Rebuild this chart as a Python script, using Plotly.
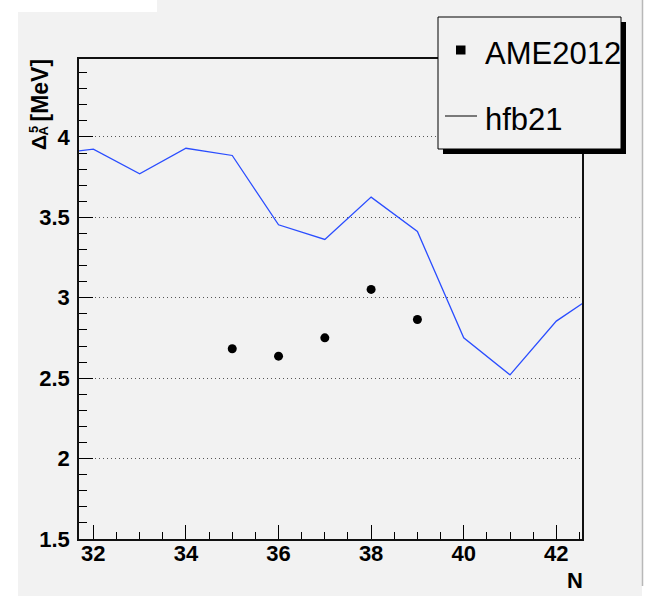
import plotly.graph_objects as go

# Measured points (AME2012) and the hfb21 model curve
ame_n = [35, 36, 37, 38, 39]
ame_delta = [2.683, 2.637, 2.751, 3.052, 2.865]

hfb_n = [31, 32, 33, 34, 35, 36, 37, 38, 39, 40, 41, 42, 43]
hfb_delta = [3.89, 3.924, 3.771, 3.93, 3.885, 3.454, 3.363, 3.626, 3.412,
             2.751, 2.521, 2.855, 3.05]

x_range = [31.69, 42.555]
y_range = [1.5, 4.485]
y_ticks = [1.5, 2, 2.5, 3, 3.5, 4]
y_tick_text = ["1.5", "2", "2.5", "3", "3.5", "4"]
x_ticks = [32, 34, 36, 38, 40, 42]
x_tick_text = ["32", "34", "36", "38", "40", "42"]

W, H = 650, 596
L, R, T, B = 79, 582, 59, 539  # plot-area box in pixels


def px(x):
    return (x - L) / (R - L)


def py(y):
    return (B - y) / (B - T)


FONT = "Liberation Sans, Arial, Helvetica, sans-serif"
GRAY = "#f2f2f2"

fig = go.Figure()

fig.add_trace(go.Scatter(
    x=hfb_n, y=hfb_delta, mode="lines", name="hfb21",
    line=dict(color="#2a4dff", width=1.3), showlegend=False,
))
fig.add_trace(go.Scatter(
    x=ame_n, y=ame_delta, mode="markers", name="AME2012",
    marker=dict(color="black", size=9, symbol="circle"), showlegend=False,
))

shapes = []
# canvas background
shapes.append(dict(type="rect", xref="paper", yref="paper", layer="below",
                   x0=px(18), x1=px(642), y0=py(596), y1=py(12),
                   fillcolor=GRAY, line=dict(width=0)))
shapes.append(dict(type="rect", xref="paper", yref="paper", layer="below",
                   x0=px(157), x1=px(642), y0=py(13), y1=py(0),
                   fillcolor=GRAY, line=dict(width=0)))
shapes.append(dict(type="line", xref="paper", yref="paper", layer="below",
                   x0=px(642.5), x1=px(642.5), y0=py(586), y1=py(0),
                   line=dict(color="#b8b8b8", width=1.5)))

# legend box with drop shadow
shapes.append(dict(type="rect", xref="paper", yref="paper", layer="above",
                   x0=px(443), x1=px(626), y0=py(154), y1=py(22),
                   fillcolor="black", line=dict(width=0)))
shapes.append(dict(type="rect", xref="paper", yref="paper", layer="above",
                   x0=px(438), x1=px(621), y0=py(149), y1=py(17),
                   fillcolor=GRAY, line=dict(color="black", width=1)))
# legend glyphs
shapes.append(dict(type="rect", xref="paper", yref="paper", layer="above",
                   x0=px(456), x1=px(465.5), y0=py(54.5), y1=py(45.5),
                   fillcolor="black", line=dict(width=0)))
shapes.append(dict(type="line", xref="paper", yref="paper", layer="above",
                   x0=px(445), x1=px(477), y0=py(116), y1=py(116),
                   line=dict(color="black", width=1)))

annotations = [
    dict(text="AME2012", x=px(483), y=py(54), xref="paper", yref="paper",
         xanchor="left", yanchor="middle", showarrow=False,
         font=dict(family=FONT, size=31, color="black")),
    dict(text="hfb21", x=px(483), y=py(119), xref="paper", yref="paper",
         xanchor="left", yanchor="middle", showarrow=False,
         font=dict(family=FONT, size=31, color="black")),
    # x-axis title
    dict(text="<b>N</b>", x=px(575), y=py(580), xref="paper", yref="paper",
         xanchor="center", yanchor="middle", showarrow=False,
         font=dict(family=FONT, size=22, color="black")),
    # y-axis title: Delta with stacked 5 / A, then unit
    dict(text="<b>Δ</b>", x=px(38.5), y=py(142.5), xref="paper", yref="paper",
         xanchor="center", yanchor="middle", showarrow=False, textangle=-90,
         font=dict(family=FONT, size=21, color="black")),
    dict(text="<b>5</b>", x=px(33), y=py(130), xref="paper", yref="paper",
         xanchor="center", yanchor="middle", showarrow=False, textangle=-90,
         font=dict(family=FONT, size=13, color="black")),
    dict(text="<b>A</b>", x=px(43), y=py(130.5), xref="paper", yref="paper",
         xanchor="center", yanchor="middle", showarrow=False, textangle=-90,
         font=dict(family=FONT, size=13, color="black")),
    dict(text="<b>[MeV]</b>", x=px(39), y=py(90.5), xref="paper", yref="paper",
         xanchor="center", yanchor="middle", showarrow=False, textangle=-90,
         font=dict(family=FONT, size=23, color="black")),
]

tick_font = dict(family=FONT, size=22, color="black", weight="bold")

fig.update_layout(
    width=W, height=H,
    margin=dict(l=L, r=W - R, t=T, b=H - B, pad=0),
    paper_bgcolor="white",
    plot_bgcolor=GRAY,
    showlegend=False,
    shapes=shapes,
    annotations=annotations,
    xaxis=dict(
        range=x_range, tickmode="array", tickvals=x_ticks, ticktext=x_tick_text,
        ticks="inside", ticklen=14, tickwidth=1.2, tickcolor="black",
        minor=dict(dtick=0.5, tick0=0, ticks="inside", ticklen=7,
                   tickwidth=1, tickcolor="black", showgrid=False),
        showgrid=False, zeroline=False,
        showline=True, linecolor="#111", linewidth=2, mirror=True,
        tickfont=tick_font, ticklabelstandoff=-6,
    ),
    xaxis2=dict(
        range=x_range, overlaying="x", anchor="y", side="bottom",
        dtick=0.1, tick0=0, ticks="inside", ticklen=3, tickwidth=1,
        tickcolor="black", showticklabels=False, showgrid=False,
        zeroline=False, showline=False,
    ),
    yaxis=dict(
        range=y_range, tickmode="array", tickvals=y_ticks, ticktext=y_tick_text,
        ticks="inside", ticklen=14, tickwidth=1.2, tickcolor="black",
        minor=dict(dtick=0.1, tick0=0, ticks="inside", ticklen=8,
                   tickwidth=1, tickcolor="black", showgrid=False),
        showgrid=True, gridcolor="#555555", gridwidth=1, griddash="1px,3px",
        zeroline=False,
        showline=True, linecolor="#111", linewidth=1.5, mirror=True,
        tickfont=tick_font, ticklabelstandoff=3,
    ),
)

fig.write_html("out.html")
